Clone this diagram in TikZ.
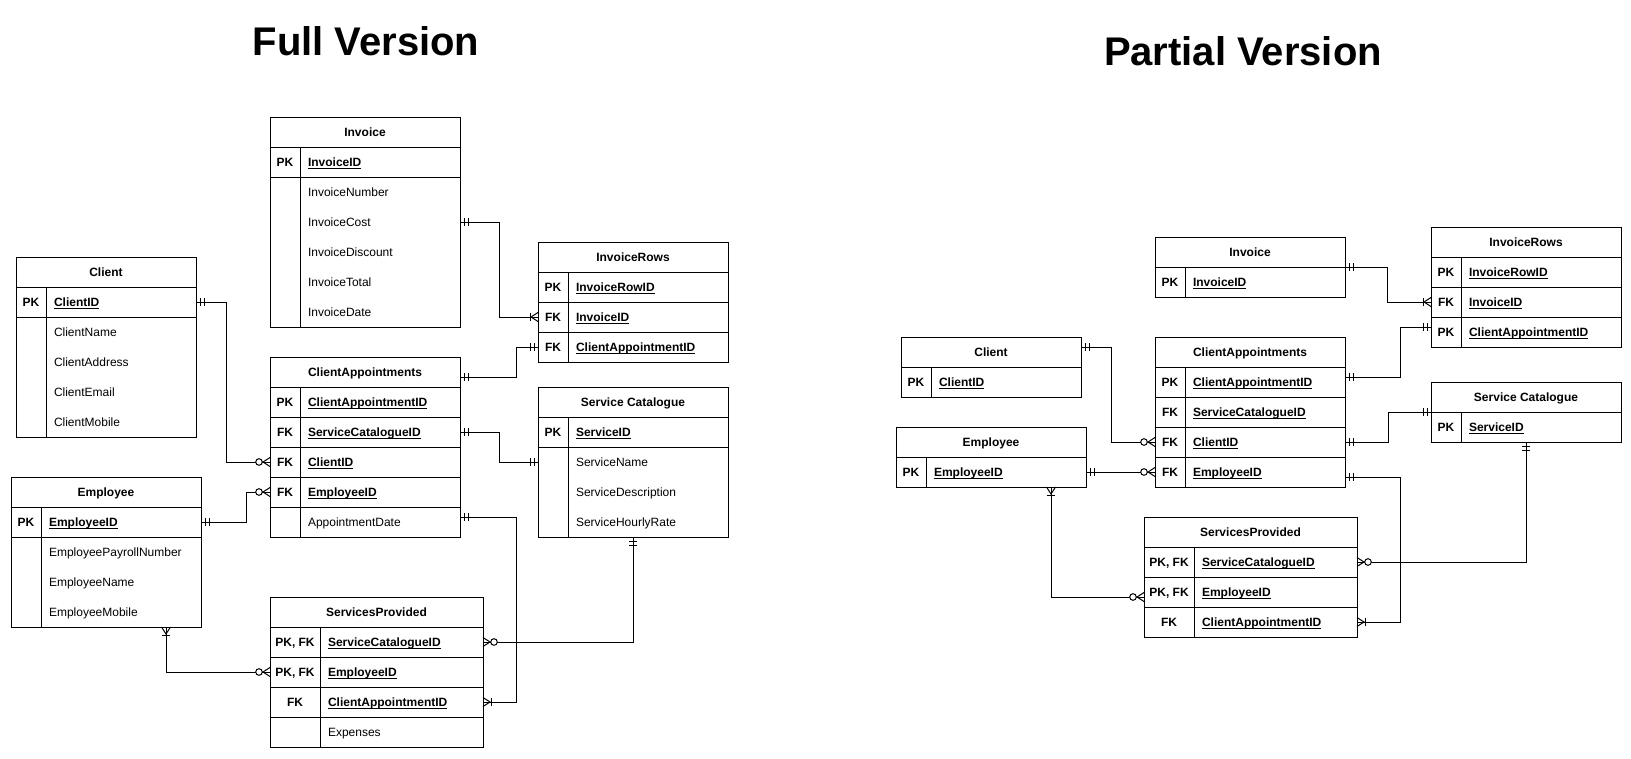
\documentclass[tikz,border=0pt]{standalone}
\usepackage{fontspec}
\setmainfont{Liberation Sans}
\usetikzlibrary{decorations.markings}

\newcommand\erfont{\fontsize{12pt}{14pt}\selectfont}
\newcommand\keyul[1]{\setbox0\hbox{#1}\rlap{\rule[-2pt]{\wd0}{0.8pt}}\box0}
\newcommand\ermone{\draw[line width=1pt] (-4,-4) -- (-4,4) (-8,-4) -- (-8,4);}
\newcommand\ercrow{\draw[line width=1pt] (0,-4.5) -- (-7,0) -- (0,4.5);}
\newcommand\eromany{\ercrow\draw[line width=1pt] (-8,-4) -- (-8,4);}
\newcommand\erzmany{\ercrow\filldraw[fill=white,line width=1pt] (-11,0) circle[radius=3.3pt];}

\begin{document}
\begin{tikzpicture}[x=1pt,y=-1pt,
        title/.style={anchor=base, font=\fontsize{40pt}{48pt}\selectfont\bfseries},
        tblhead/.style={draw, line width=1pt, anchor=north west, minimum height=30pt,
            inner sep=0pt, outer sep=0pt, font=\erfont\bfseries, text height=8.6pt, text depth=0pt},
        keycell/.style={tblhead},
        keyfield/.style={draw, line width=1pt, anchor=north west, minimum height=30pt,
            inner xsep=8pt, inner ysep=0pt, outer sep=0pt, align=left, font=\erfont\bfseries,
            text height=8.6pt, text depth=0pt},
        attrfield/.style={keyfield, draw=none, font=\erfont},
        frame/.style={line width=1pt},
        link/.style={draw, line width=1pt},
        mone start/.style={postaction={decorate,decoration={markings,
            mark=at position 0 with {\begin{scope}[xscale=-1]\ermone\end{scope}}}}},
        mone end/.style={postaction={decorate,decoration={markings,
            mark=at position 1 with {\ermone}}}},
        omany start/.style={postaction={decorate,decoration={markings,
            mark=at position 0 with {\begin{scope}[xscale=-1]\eromany\end{scope}}}}},
        omany end/.style={postaction={decorate,decoration={markings,
            mark=at position 1 with {\eromany}}}},
        zmany end/.style={postaction={decorate,decoration={markings,
            mark=at position 1 with {\erzmany}}}}
    ]
    \useasboundingbox (0,0) rectangle (1631,758);

    % ---------------- Full Version ----------------
    \node[title] (fullT) at (366,55) {Full Version};

    % Invoice
    \node[tblhead, minimum width=190pt] (invH) at (270,117) {Invoice};
    \node[keycell, minimum width=30pt] (invK1) at (270,147) {PK};
    \node[keyfield, text width=144pt] (invF1) at (300,147) {\keyul{InvoiceID}};
    \foreach \f [count=\i from 2] in {InvoiceNumber,InvoiceCost,InvoiceDiscount,InvoiceTotal,InvoiceDate}
        \node[attrfield, text width=144pt] (invF\i) at (300,117+30*\i) {\f};
    \draw[frame] (invH.north west) rectangle (invF6.south east);
    \draw[frame] (invK1.north east) -- (invK1.north east |- invF6.south);

    % Client
    \node[tblhead, minimum width=180pt] (cliH) at (16,257) {Client};
    \node[keycell, minimum width=30pt] (cliK1) at (16,287) {PK};
    \node[keyfield, text width=134pt] (cliF1) at (46,287) {\keyul{ClientID}};
    \foreach \f [count=\i from 2] in {ClientName,ClientAddress,ClientEmail,ClientMobile}
        \node[attrfield, text width=134pt] (cliF\i) at (46,257+30*\i) {\f};
    \draw[frame] (cliH.north west) rectangle (cliF5.south east);
    \draw[frame] (cliK1.north east) -- (cliK1.north east |- cliF5.south);

    % ClientAppointments
    \node[tblhead, minimum width=190pt] (appH) at (270,357) {ClientAppointments};
    \foreach \k/\f [count=\i] in {PK/ClientAppointmentID,FK/ServiceCatalogueID,FK/ClientID,FK/EmployeeID} {
        \node[keycell, minimum width=30pt] (appK\i) at (270,357+30*\i) {\k};
        \node[keyfield, text width=144pt] (appF\i) at (300,357+30*\i) {\keyul{\f}};
    }
    \node[attrfield, text width=144pt] (appF5) at (300,507) {AppointmentDate};
    \draw[frame] (appH.north west) rectangle (appF5.south east);
    \draw[frame] (appK1.north east) -- (appK1.north east |- appF5.south);

    % Employee
    \node[tblhead, minimum width=190pt] (empH) at (11,477) {Employee};
    \node[keycell, minimum width=30pt] (empK1) at (11,507) {PK};
    \node[keyfield, text width=144pt] (empF1) at (41,507) {\keyul{EmployeeID}};
    \foreach \f [count=\i from 2] in {EmployeePayrollNumber,EmployeeName,EmployeeMobile}
        \node[attrfield, text width=144pt] (empF\i) at (41,477+30*\i) {\f};
    \draw[frame] (empH.north west) rectangle (empF4.south east);
    \draw[frame] (empK1.north east) -- (empK1.north east |- empF4.south);

    % ServicesProvided
    \node[tblhead, minimum width=213pt] (svpH) at (270,597) {ServicesProvided};
    \foreach \k/\f [count=\i] in {{PK, FK}/ServiceCatalogueID,{PK, FK}/EmployeeID,FK/ClientAppointmentID} {
        \node[keycell, minimum width=50pt] (svpK\i) at (270,597+30*\i) {\k};
        \node[keyfield, text width=147pt] (svpF\i) at (320,597+30*\i) {\keyul{\f}};
    }
    \node[keycell, minimum width=50pt] (svpK4) at (270,717) {};
    \node[attrfield, draw, text width=147pt] (svpF4) at (320,717) {Expenses};

    % InvoiceRows
    \node[tblhead, minimum width=190pt] (rowH) at (538,242) {InvoiceRows};
    \foreach \k/\f [count=\i] in {PK/InvoiceRowID,FK/InvoiceID,FK/ClientAppointmentID} {
        \node[keycell, minimum width=30pt] (rowK\i) at (538,242+30*\i) {\k};
        \node[keyfield, text width=144pt] (rowF\i) at (568,242+30*\i) {\keyul{\f}};
    }

    % Service Catalogue
    \node[tblhead, minimum width=190pt] (catH) at (538,387) {Service Catalogue};
    \node[keycell, minimum width=30pt] (catK1) at (538,417) {PK};
    \node[keyfield, text width=144pt] (catF1) at (568,417) {\keyul{ServiceID}};
    \foreach \f [count=\i from 2] in {ServiceName,ServiceDescription,ServiceHourlyRate}
        \node[attrfield, text width=144pt] (catF\i) at (568,387+30*\i) {\f};
    \draw[frame] (catH.north west) rectangle (catF4.south east);
    \draw[frame] (catK1.north east) -- (catK1.north east |- catF4.south);

    % relationships
    \path[link, mone start, omany end] (invF3.east) -- ++(39,0) |- (rowK2.west);
    \path[link, mone start, mone end] ([yshift=-5pt]appH.east) -- ++(56,0) |- (rowK3.west);
    \path[link, mone start, mone end] (appF2.east) -- ++(39,0) |- (catF2.west -| catH.west);
    \path[link, mone start, omany end] ([yshift=5pt]appF5.east) -- ++(56,0) |- (svpF3.east);
    \path[link, mone start, zmany end] (catH.south |- catF4.south) |- (svpF1.east);
    \path[link, mone start, zmany end] (cliF1.east) -- ++(30,0) |- (appK3.west);
    \path[link, mone start, zmany end] (empF1.east) -- ++(45,0) |- (appK4.west);
    \path[link, omany start, zmany end] ([xshift=45pt]empF4.south) |- (svpK2.west);

    % ---------------- Partial Version ----------------
    \node[title] (partT) at (1243,65) {Partial Version};

    % Invoice
    \node[tblhead, minimum width=190pt] (pinvH) at (1155,237) {Invoice};
    \node[keycell, minimum width=30pt] (pinvK1) at (1155,267) {PK};
    \node[keyfield, text width=144pt] (pinvF1) at (1185,267) {\keyul{InvoiceID}};

    % Client
    \node[tblhead, minimum width=180pt] (pcliH) at (901,337) {Client};
    \node[keycell, minimum width=30pt] (pcliK1) at (901,367) {PK};
    \node[keyfield, text width=134pt] (pcliF1) at (931,367) {\keyul{ClientID}};

    % ClientAppointments
    \node[tblhead, minimum width=190pt] (pappH) at (1155,337) {ClientAppointments};
    \foreach \k/\f [count=\i] in {PK/ClientAppointmentID,FK/ServiceCatalogueID,FK/ClientID,FK/EmployeeID} {
        \node[keycell, minimum width=30pt] (pappK\i) at (1155,337+30*\i) {\k};
        \node[keyfield, text width=144pt] (pappF\i) at (1185,337+30*\i) {\keyul{\f}};
    }

    % Employee
    \node[tblhead, minimum width=190pt] (pempH) at (896,427) {Employee};
    \node[keycell, minimum width=30pt] (pempK1) at (896,457) {PK};
    \node[keyfield, text width=144pt] (pempF1) at (926,457) {\keyul{EmployeeID}};

    % InvoiceRows
    \node[tblhead, minimum width=190pt] (prowH) at (1431,227) {InvoiceRows};
    \foreach \k/\f [count=\i] in {PK/InvoiceRowID,FK/InvoiceID,PK/ClientAppointmentID} {
        \node[keycell, minimum width=30pt] (prowK\i) at (1431,227+30*\i) {\k};
        \node[keyfield, text width=144pt] (prowF\i) at (1461,227+30*\i) {\keyul{\f}};
    }

    % Service Catalogue
    \node[tblhead, minimum width=190pt] (pcatH) at (1431,382) {Service Catalogue};
    \node[keycell, minimum width=30pt] (pcatK1) at (1431,412) {PK};
    \node[keyfield, text width=144pt] (pcatF1) at (1461,412) {\keyul{ServiceID}};

    % ServicesProvided
    \node[tblhead, minimum width=213pt] (psvpH) at (1144,517) {ServicesProvided};
    \foreach \k/\f [count=\i] in {{PK, FK}/ServiceCatalogueID,{PK, FK}/EmployeeID,FK/ClientAppointmentID} {
        \node[keycell, minimum width=50pt] (psvpK\i) at (1144,517+30*\i) {\k};
        \node[keyfield, text width=147pt] (psvpF\i) at (1194,517+30*\i) {\keyul{\f}};
    }

    % relationships
    \path[link, mone start, omany end] (pinvH.south east) -- ++(42,0) |- (prowK2.west);
    \path[link, mone start, mone end] ([yshift=5pt]pappF1.east) -- ++(55,0) |- ([yshift=5pt]prowK3.west);
    \path[link, mone start, mone end] (pappF3.east) -- ++(43,0) |- (pcatH.south west);
    \path[link, mone start, omany end] ([yshift=-5pt]pappF4.east) -- ++(55,0) |- (psvpF3.east);
    \path[link, mone start, zmany end] (pcatH.south |- pcatF1.south) |- (psvpF1.east);
    \path[link, mone start, zmany end] ([yshift=5pt]pcliH.east) -- ++(30,0) |- (pappK3.west);
    \path[link, mone start, zmany end] (pempF1.east) -- (pappK4.west);
    \path[link, omany start, zmany end] ([xshift=45pt]pempF1.south) |- ([yshift=-5pt]psvpK2.west);
\end{tikzpicture}
\end{document}
